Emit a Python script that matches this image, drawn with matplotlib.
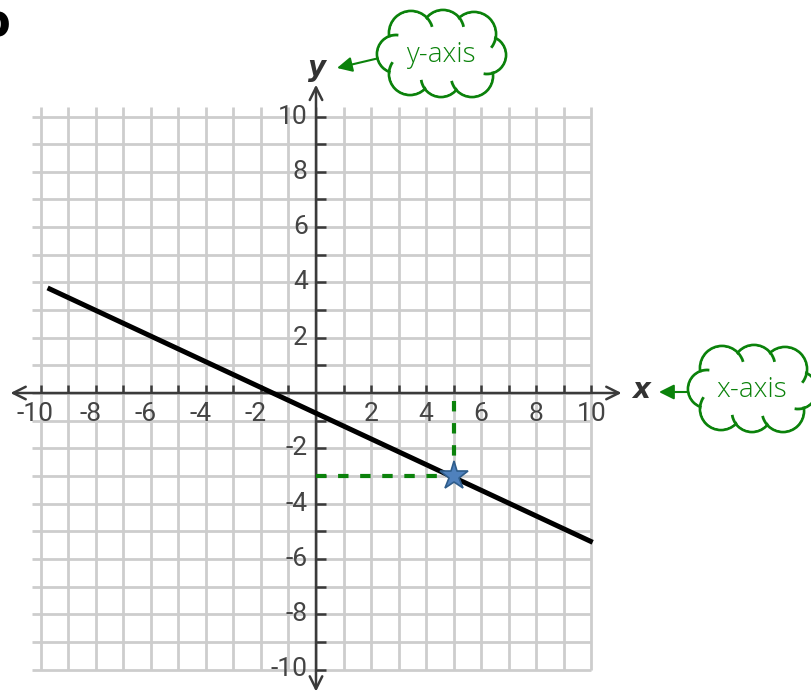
import numpy as np
import matplotlib
matplotlib.use('Agg')
import matplotlib.pyplot as plt
from matplotlib.patches import Circle, Ellipse, Arc

# ── データ ──
LINE_X = [-9.75, 10.05]
LINE_Y = [3.8, -5.4]
POINT = (5, -3)
GRID_VALS = list(range(-10, 11))
TICK_LABELS = [-10, -8, -6, -4, -2, 2, 4, 6, 8, 10]
CLOUD_TEXTS = ['y-axis', 'x-axis']

W, H = 811, 699
X0_PIX, Y0_PIX = 316, 393      # 原点のピクセル位置
UX, UY = 27.53, 27.65          # 1目盛あたりのピクセル

GRID_C = '#cdcdcd'
AXIS_C = '#3a3a3a'
GREEN = '#0b820b'
LABEL_FONT = ['Roboto', 'DejaVu Sans']

fig = plt.figure(figsize=(W / 100, H / 100), dpi=100)
ax = fig.add_axes([0, 0, 1, 1])
ax.set_xlim(-X0_PIX / UX, (W - X0_PIX) / UX)
ax.set_ylim((Y0_PIX - H) / UY, Y0_PIX / UY)
ax.axis('off')

# 方眼
ax.vlines(GRID_VALS, -10, 10.35, color=GRID_C, lw=2.0, zorder=1)
ax.hlines(GRID_VALS, -10.3, 10, color=GRID_C, lw=2.0, zorder=1)

# 座標軸 (両矢印)
arrow = dict(arrowstyle='<->, head_length=0.9, head_width=0.45', lw=1.8,
             color=AXIS_C, shrinkA=0, shrinkB=0)
ax.annotate('', xy=(11.1, 0), xytext=(-11.1, 0), arrowprops=arrow, zorder=3)
ax.annotate('', xy=(0, 11.15), xytext=(0, -10.8), arrowprops=arrow, zorder=3)

# 目盛
ticks = [v for v in GRID_VALS if v != 0]
ax.vlines(ticks, 0, 0.3, color=AXIS_C, lw=1.8, zorder=3)
ax.hlines(ticks, 0, 0.38, color=AXIS_C, lw=1.8, zorder=3)

for v in TICK_LABELS:
    dx = -0.2 if v < 0 else 0
    ax.text(v + dx, -0.75, str(v), ha='center', va='center', fontsize=19,
            color='#444444', family=LABEL_FONT, zorder=3)
    ax.text(-0.3, v, str(v), ha='right', va='center', fontsize=19,
            color='#444444', family=LABEL_FONT, zorder=3)

ax.text(0.05, 11.75, 'y', ha='center', va='center', fontsize=20,
        style='italic', weight='bold', color='#333333', zorder=3)
ax.text(11.8, 0.1, 'x', ha='center', va='center', fontsize=20,
        style='italic', weight='bold', color='#333333', zorder=3)

# 直線と点
ax.plot(LINE_X, LINE_Y, color='black', lw=3.6, solid_capstyle='butt', zorder=4)
ax.plot([POINT[0], POINT[0]], [-0.3, POINT[1]], color=GREEN, lw=3,
        linestyle=(0, (2.5, 2.8)), zorder=5)
ax.plot([0, POINT[0]], [POINT[1], POINT[1]], color=GREEN, lw=3,
        linestyle=(0, (2.5, 2.8)), zorder=5)
ax.plot(*POINT, marker='*', markersize=21, markerfacecolor='#4f81bd',
        markeredgecolor='#2e5c8a', markeredgewidth=1.2, zorder=6)

# ── 吹き出し(雲)はピクセル座標で ──
ov = fig.add_axes([0, 0, 1, 1], facecolor='none')
ov.set_xlim(0, W)
ov.set_ylim(H, 0)
ov.axis('off')

BUMPS = [(-30, -21, 22), (2, -23, 21), (33, -20, 22), (46, 1, 19),
         (31, 22, 21), (0, 23, 20), (-31, 20, 21), (-45, 0, 19)]


def crease(c1, c2):
    """隣り合う山の交点から内側へ伸びる小さな弧"""
    (x1, y1, r1), (x2, y2, r2) = c1, c2
    d = np.hypot(x2 - x1, y2 - y1)
    a = (r1**2 - r2**2 + d**2) / (2 * d)
    h = np.sqrt(max(r1**2 - a**2, 0))
    mx, my = x1 + a * (x2 - x1) / d, y1 + a * (y2 - y1) / d
    pts = [(mx + h * (y2 - y1) / d, my - h * (x2 - x1) / d),
           (mx - h * (y2 - y1) / d, my + h * (x2 - x1) / d)]
    px, py = max(pts, key=lambda p: np.hypot(*p))
    th = np.degrees(np.arctan2(py - y1, px - x1))
    tp = np.radians(th + 5)
    inside = np.hypot(x1 + r1 * np.cos(tp) - x2, y1 + r1 * np.sin(tp) - y2) < r2
    return (th, th + 28) if inside else (th - 28, th)


def draw_cloud(cx, cy, text):
    for bx, by, r in BUMPS:
        ov.add_patch(Circle((cx + bx, cy + by), r, facecolor='white',
                            edgecolor=GREEN, lw=2.0, zorder=10))
    for bx, by, r in BUMPS:
        ov.add_patch(Circle((cx + bx, cy + by), r - 1.6, facecolor='white',
                            edgecolor='none', zorder=11))
    ov.add_patch(Ellipse((cx, cy), 90, 55, facecolor='white', edgecolor='none', zorder=11))
    for i, b in enumerate(BUMPS):
        t1, t2 = crease(b, BUMPS[(i + 1) % len(BUMPS)])
        ov.add_patch(Arc((cx + b[0], cy + b[1]), 2 * b[2], 2 * b[2],
                         theta1=t1, theta2=t2, color=GREEN, lw=2.0, zorder=12))
    ov.text(cx, cy + 1, text, ha='center', va='center', fontsize=20,
            family='Open Sans', weight='light', color=GREEN, zorder=13)


draw_cloud(441, 54, CLOUD_TEXTS[0])
draw_cloud(752, 389, CLOUD_TEXTS[1])

head = dict(arrowstyle='-|>, head_length=0.9, head_width=0.45', lw=1.5,
            color=GREEN, shrinkA=0, shrinkB=0)
ov.annotate('', xy=(337, 68), xytext=(392, 55), arrowprops=head, zorder=9)
ov.annotate('', xy=(659, 392), xytext=(700, 392), arrowprops=head, zorder=9)

# 左上の切れた文字
ov.text(10, 36, 'b', ha='right', va='baseline', fontsize=32, weight='bold',
        color='black', zorder=12)

plt.savefig('out.png', dpi=100)
plt.close()
